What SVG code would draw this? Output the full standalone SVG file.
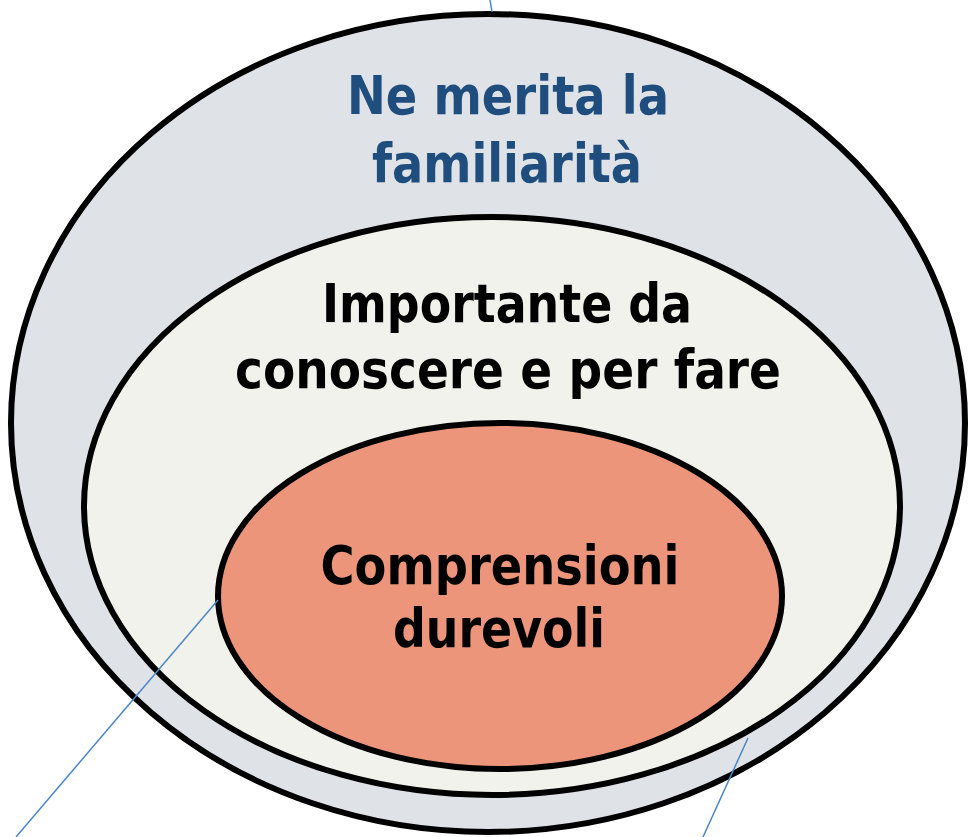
<svg xmlns="http://www.w3.org/2000/svg" width="968" height="837" viewBox="0 0 968 837">
<style>
.ring{stroke:#000;stroke-width:6}
.t{font-family:"DejaVu Sans Condensed","DejaVu Sans",sans-serif;font-weight:bold;font-size:54px;text-anchor:middle}
.blue{fill:#1f4e7e}
.blk{fill:#000}
.conn{stroke:#4a86c8;stroke-width:1.5;fill:none}
</style>
<rect width="968" height="837" fill="#fff"/>
<g id="outer">
<ellipse class="ring" cx="488" cy="423" rx="477" ry="409" fill="#dfe3e8"/>
<text class="t blue" x="508" y="114" textLength="322" lengthAdjust="spacingAndGlyphs">Ne merita la</text>
<text class="t blue" x="507" y="182" textLength="270" lengthAdjust="spacingAndGlyphs">familiarità</text>
</g>
<g id="middle">
<ellipse class="ring" cx="492" cy="506" rx="408" ry="289" fill="#f2f2ec"/>
<text class="t blk" x="507" y="322" textLength="370" lengthAdjust="spacingAndGlyphs">Importante da</text>
<text class="t blk" x="508" y="388" textLength="546" lengthAdjust="spacingAndGlyphs">conoscere e per fare</text>
</g>
<g id="inner">
<ellipse class="ring" cx="500" cy="596" rx="282" ry="173" fill="#ec957a"/>
<text class="t blk" x="500" y="584" textLength="359" lengthAdjust="spacingAndGlyphs">Comprensioni</text>
<text class="t blk" x="499" y="647" textLength="212" lengthAdjust="spacingAndGlyphs">durevoli</text>
</g>
<g id="connectors">
<line class="conn" x1="490" y1="0" x2="492" y2="12"/>
<line class="conn" x1="218" y1="600" x2="16" y2="837"/>
<line class="conn" x1="748" y1="738" x2="703" y2="837"/>
</g>
</svg>
